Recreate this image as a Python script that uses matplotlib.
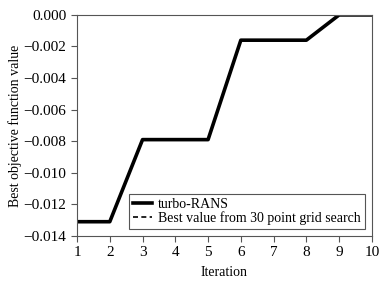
import numpy as np
import matplotlib
matplotlib.use("Agg")
import matplotlib.pyplot as plt

plt.rcParams['font.family'] = ['Liberation Serif', 'DejaVu Serif']

iteracje = [1, 2, 3, 4, 5, 6, 7, 8, 9, 10]
najlepsze = [-0.0131, -0.0131, -0.0079, -0.0079, -0.0079, -0.0016, -0.0016, -0.0016, 0.0, 0.0]
siatka = 0.0

fig = plt.figure(figsize=(3.89, 2.87), dpi=100)
ax = fig.add_axes([0.198, 0.178, 0.758, 0.77])
ax.plot(iteracje, najlepsze, color='black', lw=2.6, label='turbo-RANS')
ax.axhline(siatka, color='black', ls=(0, (3, 2)), lw=1.2, label='Best value from 30 point grid search')

ax.set_xlim(1, 10)
ax.set_ylim(-0.014, 0.0)
ax.set_xticks(iteracje)
yt = np.arange(-0.014, 0.0001, 0.002)
ax.set_yticks(yt)
ax.set_yticklabels([f"{v:.3f}".replace('-', '\u2212') for v in yt])
ax.set_xlabel('Iteration', fontsize=10, labelpad=5)
ax.set_ylabel('Best objective function value', fontsize=10, labelpad=1)
ax.tick_params(labelsize=11, color='#555555', length=4)
for s in ax.spines.values():
    s.set_color('#555555')

leg = ax.legend(loc='lower right', fontsize=10, fancybox=False, framealpha=1,
                edgecolor='#555555', handlelength=1.4, borderpad=0.3,
                labelspacing=0.0, handletextpad=0.4, borderaxespad=0.5)
leg.get_frame().set_linewidth(0.8)

fig.savefig('out.png', dpi=100)
